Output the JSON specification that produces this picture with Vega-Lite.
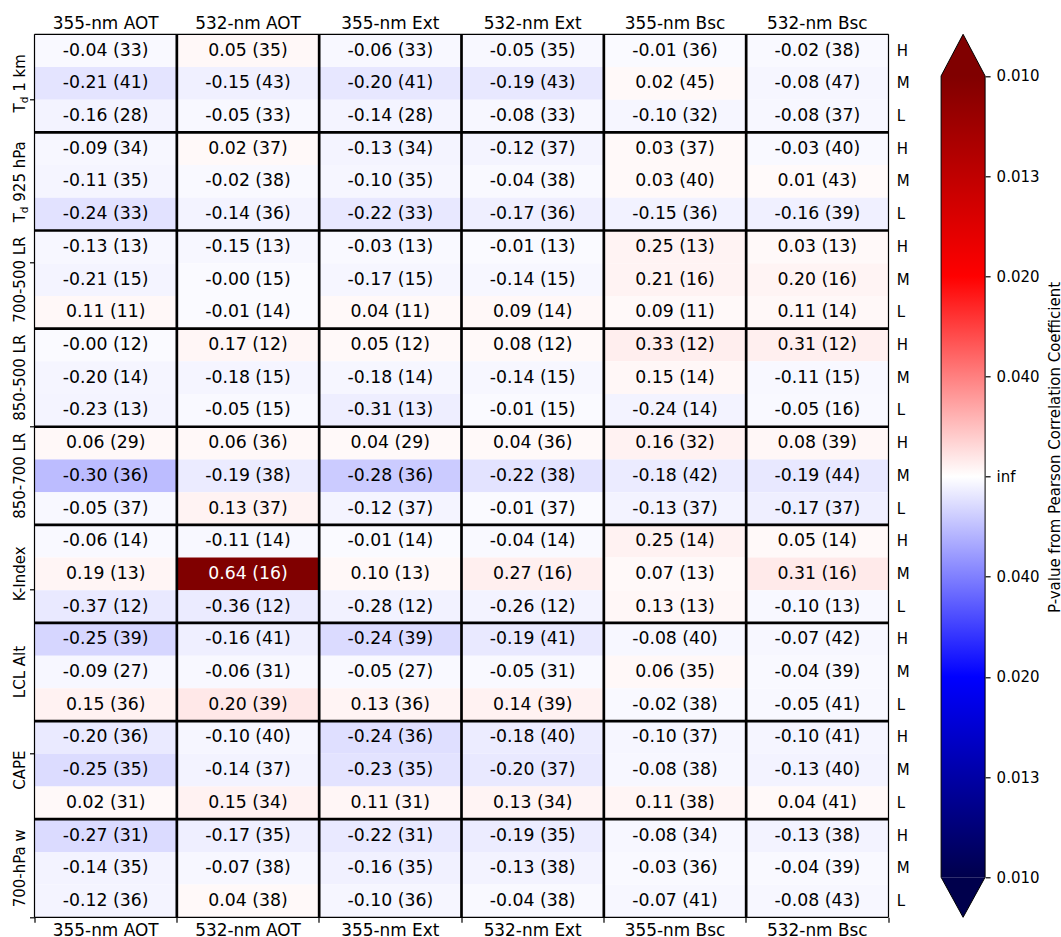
{
  "$schema": "https://vega.github.io/schema/vega-lite/v6.json",
  "background": "white",
  "padding": {"left": 12.5, "top": 14.3, "right": 0, "bottom": 0},
  "spacing": 29.6,
  "config": {
    "font": "DejaVu Sans",
    "view": {"stroke": null},
    "axis": {"labelFont": "DejaVu Sans", "titleFont": "DejaVu Sans", "labelColor": "black", "titleColor": "black", "tickColor": "black", "grid": false},
    "text": {"font": "DejaVu Sans"}
  },
  "datasets": {
    "cells": [
      {"row":"Td1 H","lvl":"H","col":"355-nm AOT","r":-0.04,"n":33,"inv_p":-1.21,"label":"-0.04 (33)"},
      {"row":"Td1 H","lvl":"H","col":"532-nm AOT","r":0.05,"n":35,"inv_p":1.29,"label":"0.05 (35)"},
      {"row":"Td1 H","lvl":"H","col":"355-nm Ext","r":-0.06,"n":33,"inv_p":-1.35,"label":"-0.06 (33)"},
      {"row":"Td1 H","lvl":"H","col":"532-nm Ext","r":-0.05,"n":35,"inv_p":-1.29,"label":"-0.05 (35)"},
      {"row":"Td1 H","lvl":"H","col":"355-nm Bsc","r":-0.01,"n":36,"inv_p":-1.05,"label":"-0.01 (36)"},
      {"row":"Td1 H","lvl":"H","col":"532-nm Bsc","r":-0.02,"n":38,"inv_p":-1.10,"label":"-0.02 (38)"},
      {"row":"Td1 M","lvl":"M","col":"355-nm AOT","r":-0.21,"n":41,"inv_p":-5.3,"label":"-0.21 (41)"},
      {"row":"Td1 M","lvl":"M","col":"532-nm AOT","r":-0.15,"n":43,"inv_p":-2.97,"label":"-0.15 (43)"},
      {"row":"Td1 M","lvl":"M","col":"355-nm Ext","r":-0.20,"n":41,"inv_p":-4.76,"label":"-0.20 (41)"},
      {"row":"Td1 M","lvl":"M","col":"532-nm Ext","r":-0.19,"n":43,"inv_p":-4.5,"label":"-0.19 (43)"},
      {"row":"Td1 M","lvl":"M","col":"355-nm Bsc","r":0.02,"n":45,"inv_p":1.12,"label":"0.02 (45)"},
      {"row":"Td1 M","lvl":"M","col":"532-nm Bsc","r":-0.08,"n":47,"inv_p":-1.69,"label":"-0.08 (47)"},
      {"row":"Td1 L","lvl":"L","col":"355-nm AOT","r":-0.16,"n":28,"inv_p":-2.40,"label":"-0.16 (28)"},
      {"row":"Td1 L","lvl":"L","col":"532-nm AOT","r":-0.05,"n":33,"inv_p":-1.28,"label":"-0.05 (33)"},
      {"row":"Td1 L","lvl":"L","col":"355-nm Ext","r":-0.14,"n":28,"inv_p":-2.10,"label":"-0.14 (28)"},
      {"row":"Td1 L","lvl":"L","col":"532-nm Ext","r":-0.08,"n":33,"inv_p":-1.52,"label":"-0.08 (33)"},
      {"row":"Td1 L","lvl":"L","col":"355-nm Bsc","r":-0.10,"n":32,"inv_p":-1.71,"label":"-0.10 (32)"},
      {"row":"Td1 L","lvl":"L","col":"532-nm Bsc","r":-0.08,"n":37,"inv_p":-1.57,"label":"-0.08 (37)"},
      {"row":"Td925 H","lvl":"H","col":"355-nm AOT","r":-0.09,"n":34,"inv_p":-1.63,"label":"-0.09 (34)"},
      {"row":"Td925 H","lvl":"H","col":"532-nm AOT","r":0.02,"n":37,"inv_p":1.10,"label":"0.02 (37)"},
      {"row":"Td925 H","lvl":"H","col":"355-nm Ext","r":-0.13,"n":34,"inv_p":-2.16,"label":"-0.13 (34)"},
      {"row":"Td925 H","lvl":"H","col":"532-nm Ext","r":-0.12,"n":37,"inv_p":-2.08,"label":"-0.12 (37)"},
      {"row":"Td925 H","lvl":"H","col":"355-nm Bsc","r":0.03,"n":37,"inv_p":1.16,"label":"0.03 (37)"},
      {"row":"Td925 H","lvl":"H","col":"532-nm Bsc","r":-0.03,"n":40,"inv_p":-1.17,"label":"-0.03 (40)"},
      {"row":"Td925 M","lvl":"M","col":"355-nm AOT","r":-0.11,"n":35,"inv_p":-1.89,"label":"-0.11 (35)"},
      {"row":"Td925 M","lvl":"M","col":"532-nm AOT","r":-0.02,"n":38,"inv_p":-1.10,"label":"-0.02 (38)"},
      {"row":"Td925 M","lvl":"M","col":"355-nm Ext","r":-0.10,"n":35,"inv_p":-1.76,"label":"-0.10 (35)"},
      {"row":"Td925 M","lvl":"M","col":"532-nm Ext","r":-0.04,"n":38,"inv_p":-1.23,"label":"-0.04 (38)"},
      {"row":"Td925 M","lvl":"M","col":"355-nm Bsc","r":0.03,"n":40,"inv_p":1.17,"label":"0.03 (40)"},
      {"row":"Td925 M","lvl":"M","col":"532-nm Bsc","r":0.01,"n":43,"inv_p":1.05,"label":"0.01 (43)"},
      {"row":"Td925 L","lvl":"L","col":"355-nm AOT","r":-0.24,"n":33,"inv_p":-5.6,"label":"-0.24 (33)"},
      {"row":"Td925 L","lvl":"L","col":"532-nm AOT","r":-0.14,"n":36,"inv_p":-2.40,"label":"-0.14 (36)"},
      {"row":"Td925 L","lvl":"L","col":"355-nm Ext","r":-0.22,"n":33,"inv_p":-4.57,"label":"-0.22 (33)"},
      {"row":"Td925 L","lvl":"L","col":"532-nm Ext","r":-0.17,"n":36,"inv_p":-3.11,"label":"-0.17 (36)"},
      {"row":"Td925 L","lvl":"L","col":"355-nm Bsc","r":-0.15,"n":36,"inv_p":-2.62,"label":"-0.15 (36)"},
      {"row":"Td925 L","lvl":"L","col":"532-nm Bsc","r":-0.16,"n":39,"inv_p":-3.02,"label":"-0.16 (39)"},
      {"row":"LR75 H","lvl":"H","col":"355-nm AOT","r":-0.13,"n":13,"inv_p":-1.49,"label":"-0.13 (13)"},
      {"row":"LR75 H","lvl":"H","col":"532-nm AOT","r":-0.15,"n":13,"inv_p":-1.60,"label":"-0.15 (13)"},
      {"row":"LR75 H","lvl":"H","col":"355-nm Ext","r":-0.03,"n":13,"inv_p":-1.08,"label":"-0.03 (13)"},
      {"row":"LR75 H","lvl":"H","col":"532-nm Ext","r":-0.01,"n":13,"inv_p":-1.03,"label":"-0.01 (13)"},
      {"row":"LR75 H","lvl":"H","col":"355-nm Bsc","r":0.25,"n":13,"inv_p":2.43,"label":"0.25 (13)"},
      {"row":"LR75 H","lvl":"H","col":"532-nm Bsc","r":0.03,"n":13,"inv_p":1.08,"label":"0.03 (13)"},
      {"row":"LR75 M","lvl":"M","col":"355-nm AOT","r":-0.21,"n":15,"inv_p":-2.21,"label":"-0.21 (15)"},
      {"row":"LR75 M","lvl":"M","col":"532-nm AOT","r":-0.0,"n":15,"inv_p":-1.0,"label":"-0.00 (15)"},
      {"row":"LR75 M","lvl":"M","col":"355-nm Ext","r":-0.17,"n":15,"inv_p":-1.84,"label":"-0.17 (15)"},
      {"row":"LR75 M","lvl":"M","col":"532-nm Ext","r":-0.14,"n":15,"inv_p":-1.62,"label":"-0.14 (15)"},
      {"row":"LR75 M","lvl":"M","col":"355-nm Bsc","r":0.21,"n":16,"inv_p":2.30,"label":"0.21 (16)"},
      {"row":"LR75 M","lvl":"M","col":"532-nm Bsc","r":0.20,"n":16,"inv_p":2.18,"label":"0.20 (16)"},
      {"row":"LR75 L","lvl":"L","col":"355-nm AOT","r":0.11,"n":11,"inv_p":1.34,"label":"0.11 (11)"},
      {"row":"LR75 L","lvl":"L","col":"532-nm AOT","r":-0.01,"n":14,"inv_p":-1.03,"label":"-0.01 (14)"},
      {"row":"LR75 L","lvl":"L","col":"355-nm Ext","r":0.04,"n":11,"inv_p":1.10,"label":"0.04 (11)"},
      {"row":"LR75 L","lvl":"L","col":"532-nm Ext","r":0.09,"n":14,"inv_p":1.32,"label":"0.09 (14)"},
      {"row":"LR75 L","lvl":"L","col":"355-nm Bsc","r":0.09,"n":11,"inv_p":1.26,"label":"0.09 (11)"},
      {"row":"LR75 L","lvl":"L","col":"532-nm Bsc","r":0.11,"n":14,"inv_p":1.41,"label":"0.11 (14)"},
      {"row":"LR85 H","lvl":"H","col":"355-nm AOT","r":-0.0,"n":12,"inv_p":-1.0,"label":"-0.00 (12)"},
      {"row":"LR85 H","lvl":"H","col":"532-nm AOT","r":0.17,"n":12,"inv_p":1.67,"label":"0.17 (12)"},
      {"row":"LR85 H","lvl":"H","col":"355-nm Ext","r":0.05,"n":12,"inv_p":1.14,"label":"0.05 (12)"},
      {"row":"LR85 H","lvl":"H","col":"532-nm Ext","r":0.08,"n":12,"inv_p":1.24,"label":"0.08 (12)"},
      {"row":"LR85 H","lvl":"H","col":"355-nm Bsc","r":0.33,"n":12,"inv_p":3.38,"label":"0.33 (12)"},
      {"row":"LR85 H","lvl":"H","col":"532-nm Bsc","r":0.31,"n":12,"inv_p":3.06,"label":"0.31 (12)"},
      {"row":"LR85 M","lvl":"M","col":"355-nm AOT","r":-0.20,"n":14,"inv_p":-2.03,"label":"-0.20 (14)"},
      {"row":"LR85 M","lvl":"M","col":"532-nm AOT","r":-0.18,"n":15,"inv_p":-1.92,"label":"-0.18 (15)"},
      {"row":"LR85 M","lvl":"M","col":"355-nm Ext","r":-0.18,"n":14,"inv_p":-1.86,"label":"-0.18 (14)"},
      {"row":"LR85 M","lvl":"M","col":"532-nm Ext","r":-0.14,"n":15,"inv_p":-1.62,"label":"-0.14 (15)"},
      {"row":"LR85 M","lvl":"M","col":"355-nm Bsc","r":0.15,"n":14,"inv_p":1.64,"label":"0.15 (14)"},
      {"row":"LR85 M","lvl":"M","col":"532-nm Bsc","r":-0.11,"n":15,"inv_p":-1.43,"label":"-0.11 (15)"},
      {"row":"LR85 L","lvl":"L","col":"355-nm AOT","r":-0.23,"n":13,"inv_p":-2.22,"label":"-0.23 (13)"},
      {"row":"LR85 L","lvl":"L","col":"532-nm AOT","r":-0.05,"n":15,"inv_p":-1.16,"label":"-0.05 (15)"},
      {"row":"LR85 L","lvl":"L","col":"355-nm Ext","r":-0.31,"n":13,"inv_p":-3.30,"label":"-0.31 (13)"},
      {"row":"LR85 L","lvl":"L","col":"532-nm Ext","r":-0.01,"n":15,"inv_p":-1.03,"label":"-0.01 (15)"},
      {"row":"LR85 L","lvl":"L","col":"355-nm Bsc","r":-0.24,"n":14,"inv_p":-2.45,"label":"-0.24 (14)"},
      {"row":"LR85 L","lvl":"L","col":"532-nm Bsc","r":-0.05,"n":16,"inv_p":-1.17,"label":"-0.05 (16)"},
      {"row":"LR87 H","lvl":"H","col":"355-nm AOT","r":0.06,"n":29,"inv_p":1.32,"label":"0.06 (29)"},
      {"row":"LR87 H","lvl":"H","col":"532-nm AOT","r":0.06,"n":36,"inv_p":1.38,"label":"0.06 (36)"},
      {"row":"LR87 H","lvl":"H","col":"355-nm Ext","r":0.04,"n":29,"inv_p":1.20,"label":"0.04 (29)"},
      {"row":"LR87 H","lvl":"H","col":"532-nm Ext","r":0.04,"n":36,"inv_p":1.22,"label":"0.04 (36)"},
      {"row":"LR87 H","lvl":"H","col":"355-nm Bsc","r":0.16,"n":32,"inv_p":2.62,"label":"0.16 (32)"},
      {"row":"LR87 H","lvl":"H","col":"532-nm Bsc","r":0.08,"n":39,"inv_p":1.59,"label":"0.08 (39)"},
      {"row":"LR87 M","lvl":"M","col":"355-nm AOT","r":-0.30,"n":36,"inv_p":-13.2,"label":"-0.30 (36)"},
      {"row":"LR87 M","lvl":"M","col":"532-nm AOT","r":-0.19,"n":38,"inv_p":-3.95,"label":"-0.19 (38)"},
      {"row":"LR87 M","lvl":"M","col":"355-nm Ext","r":-0.28,"n":36,"inv_p":-10.2,"label":"-0.28 (36)"},
      {"row":"LR87 M","lvl":"M","col":"532-nm Ext","r":-0.22,"n":38,"inv_p":-5.42,"label":"-0.22 (38)"},
      {"row":"LR87 M","lvl":"M","col":"355-nm Bsc","r":-0.18,"n":42,"inv_p":-3.94,"label":"-0.18 (42)"},
      {"row":"LR87 M","lvl":"M","col":"532-nm Bsc","r":-0.19,"n":44,"inv_p":-4.6,"label":"-0.19 (44)"},
      {"row":"LR87 L","lvl":"L","col":"355-nm AOT","r":-0.05,"n":37,"inv_p":-1.30,"label":"-0.05 (37)"},
      {"row":"LR87 L","lvl":"L","col":"532-nm AOT","r":0.13,"n":37,"inv_p":2.26,"label":"0.13 (37)"},
      {"row":"LR87 L","lvl":"L","col":"355-nm Ext","r":-0.12,"n":37,"inv_p":-2.08,"label":"-0.12 (37)"},
      {"row":"LR87 L","lvl":"L","col":"532-nm Ext","r":-0.01,"n":37,"inv_p":-1.05,"label":"-0.01 (37)"},
      {"row":"LR87 L","lvl":"L","col":"355-nm Bsc","r":-0.13,"n":37,"inv_p":-2.26,"label":"-0.13 (37)"},
      {"row":"LR87 L","lvl":"L","col":"532-nm Bsc","r":-0.17,"n":37,"inv_p":-3.18,"label":"-0.17 (37)"},
      {"row":"KI H","lvl":"H","col":"355-nm AOT","r":-0.06,"n":14,"inv_p":-1.19,"label":"-0.06 (14)"},
      {"row":"KI H","lvl":"H","col":"532-nm AOT","r":-0.11,"n":14,"inv_p":-1.41,"label":"-0.11 (14)"},
      {"row":"KI H","lvl":"H","col":"355-nm Ext","r":-0.01,"n":14,"inv_p":-1.03,"label":"-0.01 (14)"},
      {"row":"KI H","lvl":"H","col":"532-nm Ext","r":-0.04,"n":14,"inv_p":-1.12,"label":"-0.04 (14)"},
      {"row":"KI H","lvl":"H","col":"355-nm Bsc","r":0.25,"n":14,"inv_p":2.57,"label":"0.25 (14)"},
      {"row":"KI H","lvl":"H","col":"532-nm Bsc","r":0.05,"n":14,"inv_p":1.16,"label":"0.05 (14)"},
      {"row":"KI M","lvl":"M","col":"355-nm AOT","r":0.19,"n":13,"inv_p":1.87,"label":"0.19 (13)"},
      {"row":"KI M","lvl":"M","col":"532-nm AOT","r":0.64,"n":16,"inv_p":133,"label":"0.64 (16)"},
      {"row":"KI M","lvl":"M","col":"355-nm Ext","r":0.10,"n":13,"inv_p":1.34,"label":"0.10 (13)"},
      {"row":"KI M","lvl":"M","col":"532-nm Ext","r":0.27,"n":16,"inv_p":3.21,"label":"0.27 (16)"},
      {"row":"KI M","lvl":"M","col":"355-nm Bsc","r":0.07,"n":13,"inv_p":1.22,"label":"0.07 (13)"},
      {"row":"KI M","lvl":"M","col":"532-nm Bsc","r":0.31,"n":16,"inv_p":4.12,"label":"0.31 (16)"},
      {"row":"KI L","lvl":"L","col":"355-nm AOT","r":-0.37,"n":12,"inv_p":-4.22,"label":"-0.37 (12)"},
      {"row":"KI L","lvl":"L","col":"532-nm AOT","r":-0.36,"n":12,"inv_p":-3.98,"label":"-0.36 (12)"},
      {"row":"KI L","lvl":"L","col":"355-nm Ext","r":-0.28,"n":12,"inv_p":-2.64,"label":"-0.28 (12)"},
      {"row":"KI L","lvl":"L","col":"532-nm Ext","r":-0.26,"n":12,"inv_p":-2.41,"label":"-0.26 (12)"},
      {"row":"KI L","lvl":"L","col":"355-nm Bsc","r":0.13,"n":13,"inv_p":1.49,"label":"0.13 (13)"},
      {"row":"KI L","lvl":"L","col":"532-nm Bsc","r":-0.10,"n":13,"inv_p":-1.34,"label":"-0.10 (13)"},
      {"row":"LCL H","lvl":"H","col":"355-nm AOT","r":-0.25,"n":39,"inv_p":-8.0,"label":"-0.25 (39)"},
      {"row":"LCL H","lvl":"H","col":"532-nm AOT","r":-0.16,"n":41,"inv_p":-3.15,"label":"-0.16 (41)"},
      {"row":"LCL H","lvl":"H","col":"355-nm Ext","r":-0.24,"n":39,"inv_p":-7.09,"label":"-0.24 (39)"},
      {"row":"LCL H","lvl":"H","col":"532-nm Ext","r":-0.19,"n":41,"inv_p":-4.27,"label":"-0.19 (41)"},
      {"row":"LCL H","lvl":"H","col":"355-nm Bsc","r":-0.08,"n":40,"inv_p":-1.60,"label":"-0.08 (40)"},
      {"row":"LCL H","lvl":"H","col":"532-nm Bsc","r":-0.07,"n":42,"inv_p":-1.52,"label":"-0.07 (42)"},
      {"row":"LCL M","lvl":"M","col":"355-nm AOT","r":-0.09,"n":27,"inv_p":-1.53,"label":"-0.09 (27)"},
      {"row":"LCL M","lvl":"M","col":"532-nm AOT","r":-0.06,"n":31,"inv_p":-1.34,"label":"-0.06 (31)"},
      {"row":"LCL M","lvl":"M","col":"355-nm Ext","r":-0.05,"n":27,"inv_p":-1.24,"label":"-0.05 (27)"},
      {"row":"LCL M","lvl":"M","col":"532-nm Ext","r":-0.05,"n":31,"inv_p":-1.27,"label":"-0.05 (31)"},
      {"row":"LCL M","lvl":"M","col":"355-nm Bsc","r":0.06,"n":35,"inv_p":1.37,"label":"0.06 (35)"},
      {"row":"LCL M","lvl":"M","col":"532-nm Bsc","r":-0.04,"n":39,"inv_p":-1.24,"label":"-0.04 (39)"},
      {"row":"LCL L","lvl":"L","col":"355-nm AOT","r":0.15,"n":36,"inv_p":2.61,"label":"0.15 (36)"},
      {"row":"LCL L","lvl":"L","col":"532-nm AOT","r":0.20,"n":39,"inv_p":4.5,"label":"0.20 (39)"},
      {"row":"LCL L","lvl":"L","col":"355-nm Ext","r":0.13,"n":36,"inv_p":2.22,"label":"0.13 (36)"},
      {"row":"LCL L","lvl":"L","col":"532-nm Ext","r":0.14,"n":39,"inv_p":2.53,"label":"0.14 (39)"},
      {"row":"LCL L","lvl":"L","col":"355-nm Bsc","r":-0.02,"n":38,"inv_p":-1.10,"label":"-0.02 (38)"},
      {"row":"LCL L","lvl":"L","col":"532-nm Bsc","r":-0.05,"n":41,"inv_p":-1.32,"label":"-0.05 (41)"},
      {"row":"CAPE H","lvl":"H","col":"355-nm AOT","r":-0.20,"n":36,"inv_p":-4.13,"label":"-0.20 (36)"},
      {"row":"CAPE H","lvl":"H","col":"532-nm AOT","r":-0.10,"n":40,"inv_p":-1.85,"label":"-0.10 (40)"},
      {"row":"CAPE H","lvl":"H","col":"355-nm Ext","r":-0.24,"n":36,"inv_p":-6.3,"label":"-0.24 (36)"},
      {"row":"CAPE H","lvl":"H","col":"532-nm Ext","r":-0.18,"n":40,"inv_p":-3.76,"label":"-0.18 (40)"},
      {"row":"CAPE H","lvl":"H","col":"355-nm Bsc","r":-0.10,"n":37,"inv_p":-1.80,"label":"-0.10 (37)"},
      {"row":"CAPE H","lvl":"H","col":"532-nm Bsc","r":-0.10,"n":41,"inv_p":-1.87,"label":"-0.10 (41)"},
      {"row":"CAPE M","lvl":"M","col":"355-nm AOT","r":-0.25,"n":35,"inv_p":-6.77,"label":"-0.25 (35)"},
      {"row":"CAPE M","lvl":"M","col":"532-nm AOT","r":-0.14,"n":37,"inv_p":-2.45,"label":"-0.14 (37)"},
      {"row":"CAPE M","lvl":"M","col":"355-nm Ext","r":-0.23,"n":35,"inv_p":-5.44,"label":"-0.23 (35)"},
      {"row":"CAPE M","lvl":"M","col":"532-nm Ext","r":-0.20,"n":37,"inv_p":-4.25,"label":"-0.20 (37)"},
      {"row":"CAPE M","lvl":"M","col":"355-nm Bsc","r":-0.08,"n":38,"inv_p":-1.58,"label":"-0.08 (38)"},
      {"row":"CAPE M","lvl":"M","col":"532-nm Bsc","r":-0.13,"n":40,"inv_p":-2.36,"label":"-0.13 (40)"},
      {"row":"CAPE L","lvl":"L","col":"355-nm AOT","r":0.02,"n":31,"inv_p":1.09,"label":"0.02 (31)"},
      {"row":"CAPE L","lvl":"L","col":"532-nm AOT","r":0.15,"n":34,"inv_p":2.52,"label":"0.15 (34)"},
      {"row":"CAPE L","lvl":"L","col":"355-nm Ext","r":0.11,"n":31,"inv_p":1.80,"label":"0.11 (31)"},
      {"row":"CAPE L","lvl":"L","col":"532-nm Ext","r":0.13,"n":34,"inv_p":2.16,"label":"0.13 (34)"},
      {"row":"CAPE L","lvl":"L","col":"355-nm Bsc","r":0.11,"n":38,"inv_p":1.96,"label":"0.11 (38)"},
      {"row":"CAPE L","lvl":"L","col":"532-nm Bsc","r":0.04,"n":41,"inv_p":1.25,"label":"0.04 (41)"},
      {"row":"W700 H","lvl":"H","col":"355-nm AOT","r":-0.27,"n":31,"inv_p":-7.04,"label":"-0.27 (31)"},
      {"row":"W700 H","lvl":"H","col":"532-nm AOT","r":-0.17,"n":35,"inv_p":-3.04,"label":"-0.17 (35)"},
      {"row":"W700 H","lvl":"H","col":"355-nm Ext","r":-0.22,"n":31,"inv_p":-4.27,"label":"-0.22 (31)"},
      {"row":"W700 H","lvl":"H","col":"532-nm Ext","r":-0.19,"n":35,"inv_p":-3.65,"label":"-0.19 (35)"},
      {"row":"W700 H","lvl":"H","col":"355-nm Bsc","r":-0.08,"n":34,"inv_p":-1.53,"label":"-0.08 (34)"},
      {"row":"W700 H","lvl":"H","col":"532-nm Bsc","r":-0.13,"n":38,"inv_p":-2.29,"label":"-0.13 (38)"},
      {"row":"W700 M","lvl":"M","col":"355-nm AOT","r":-0.14,"n":35,"inv_p":-2.37,"label":"-0.14 (35)"},
      {"row":"W700 M","lvl":"M","col":"532-nm AOT","r":-0.07,"n":38,"inv_p":-1.48,"label":"-0.07 (38)"},
      {"row":"W700 M","lvl":"M","col":"355-nm Ext","r":-0.16,"n":35,"inv_p":-2.79,"label":"-0.16 (35)"},
      {"row":"W700 M","lvl":"M","col":"532-nm Ext","r":-0.13,"n":38,"inv_p":-2.29,"label":"-0.13 (38)"},
      {"row":"W700 M","lvl":"M","col":"355-nm Bsc","r":-0.03,"n":36,"inv_p":-1.16,"label":"-0.03 (36)"},
      {"row":"W700 M","lvl":"M","col":"532-nm Bsc","r":-0.04,"n":39,"inv_p":-1.24,"label":"-0.04 (39)"},
      {"row":"W700 L","lvl":"L","col":"355-nm AOT","r":-0.12,"n":36,"inv_p":-2.06,"label":"-0.12 (36)"},
      {"row":"W700 L","lvl":"L","col":"532-nm AOT","r":0.04,"n":38,"inv_p":1.23,"label":"0.04 (38)"},
      {"row":"W700 L","lvl":"L","col":"355-nm Ext","r":-0.10,"n":36,"inv_p":-1.78,"label":"-0.10 (36)"},
      {"row":"W700 L","lvl":"L","col":"532-nm Ext","r":-0.04,"n":38,"inv_p":-1.23,"label":"-0.04 (38)"},
      {"row":"W700 L","lvl":"L","col":"355-nm Bsc","r":-0.07,"n":41,"inv_p":-1.51,"label":"-0.07 (41)"},
      {"row":"W700 L","lvl":"L","col":"532-nm Bsc","r":-0.08,"n":43,"inv_p":-1.64,"label":"-0.08 (43)"}
    ]
  },
  "hconcat": [
    {
      "width": 854,
      "height": 883,
      "data": {"name": "cells"},
      "resolve": {"axis": {"x": "independent", "y": "independent"}},
      "layer": [
        {
          "mark": {"type": "rect"},
          "encoding": {
            "x": {
              "field": "col", "type": "nominal",
              "scale": {"domain": ["355-nm AOT", "532-nm AOT", "355-nm Ext", "532-nm Ext", "355-nm Bsc", "532-nm Bsc"], "paddingInner": 0, "paddingOuter": 0},
              "axis": {"orient": "top", "title": null, "labelAngle": 0, "ticks": false, "tickSize": 0, "domain": false, "labelPadding": 2, "labelFontSize": 16.9}
            },
            "y": {
              "field": "row", "type": "nominal",
              "scale": {"domain": ["Td1 H","Td1 M","Td1 L","Td925 H","Td925 M","Td925 L","LR75 H","LR75 M","LR75 L","LR85 H","LR85 M","LR85 L","LR87 H","LR87 M","LR87 L","KI H","KI M","KI L","LCL H","LCL M","LCL L","CAPE H","CAPE M","CAPE L","W700 H","W700 M","W700 L"], "paddingInner": 0, "paddingOuter": 0},
              "axis": {"orient": "right", "title": null, "ticks": false, "tickSize": 0, "domain": false, "labelPadding": 7.7, "labelFontSize": 15, "labelExpr": "substring(datum.value, length(datum.value) - 1)"}
            },
            "fill": {
              "field": "inv_p", "type": "quantitative",
              "scale": {"domain": [-100, -50, 0, 50, 100], "range": ["#00004c", "#0000ff", "#ffffff", "#ff0000", "#800000"], "clamp": true, "interpolate": "rgb"},
              "legend": null
            }
          }
        },
        {
          "mark": {"type": "text", "fontSize": 17.3, "baseline": "middle", "align": "center"},
          "encoding": {
            "x": {"field": "col", "type": "nominal", "axis": null},
            "y": {"field": "row", "type": "nominal", "axis": null},
            "text": {"field": "label"},
            "color": {"condition": {"test": "abs(datum.inv_p) > 60", "value": "white"}, "value": "black"}
          }
        },
        {
          "transform": [{"filter": "datum.row === 'Td1 H' && datum.col !== '355-nm AOT'"}],
          "mark": {"type": "rule", "color": "black", "strokeWidth": 2.7},
          "encoding": {
            "x": {
              "field": "col", "type": "nominal", "bandPosition": 0,
              "axis": {"orient": "bottom", "title": null, "labelAngle": 0, "bandPosition": 0, "tickSize": 5, "tickWidth": 1.2, "domain": false, "labelPadding": 0.3, "labelFontSize": 16.9}
            }
          }
        },
        {
          "transform": [{"filter": "datum.lvl === 'H' && datum.col === '355-nm AOT' && datum.row !== 'Td1 H'"}],
          "mark": {"type": "rule", "color": "black", "strokeWidth": 2.7},
          "encoding": {
            "y": {
              "field": "row", "type": "nominal", "bandPosition": 0,
              "axis": {"orient": "left", "title": null, "labels": false, "values": ["Td1 M", "LR75 H", "LR85 L", "KI M", "CAPE H", "W700 L"], "bandPosition": 1, "tickSize": 5, "tickWidth": 1.2, "domain": false}
            }
          }
        },
        {
          "transform": [{"filter": "datum.row === 'Td1 H' && datum.col === '355-nm AOT'"}],
          "mark": {"type": "rule", "color": "black", "strokeWidth": 1.2},
          "encoding": {"x": {"field": "col", "type": "nominal", "bandPosition": 0, "axis": null}}
        },
        {
          "transform": [{"filter": "datum.row === 'Td1 H' && datum.col === '532-nm Bsc'"}],
          "mark": {"type": "rule", "color": "black", "strokeWidth": 1.2},
          "encoding": {
            "x": {
              "field": "col", "type": "nominal", "bandPosition": 1,
              "axis": {"orient": "bottom", "title": null, "labels": false, "values": ["532-nm Bsc"], "bandPosition": 1, "tickSize": 5, "tickWidth": 1.2, "domain": false}
            }
          }
        },
        {
          "transform": [{"filter": "datum.row === 'Td1 H' && datum.col === '355-nm AOT'"}],
          "mark": {"type": "rule", "color": "black", "strokeWidth": 1.2},
          "encoding": {"y": {"field": "row", "type": "nominal", "bandPosition": 0, "axis": null}}
        },
        {
          "transform": [{"filter": "datum.row === 'W700 L' && datum.col === '355-nm AOT'"}],
          "mark": {"type": "rule", "color": "black", "strokeWidth": 1.2},
          "encoding": {"y": {"field": "row", "type": "nominal", "bandPosition": 1, "axis": null}}
        },
        {
          "data": {"values": [
            {"row": "LR75 M", "name": "700-500 LR"},
            {"row": "LR85 M", "name": "850-500 LR"},
            {"row": "LR87 M", "name": "850-700 LR"},
            {"row": "KI M", "name": "K-Index"},
            {"row": "LCL M", "name": "LCL Alt"},
            {"row": "CAPE M", "name": "CAPE"},
            {"row": "W700 M", "name": "700-hPa w"}
          ]},
          "mark": {"type": "text", "angle": 270, "align": "center", "baseline": "alphabetic", "dy": -9.8, "fontSize": 15, "color": "black"},
          "encoding": {
            "x": {"datum": "355-nm AOT", "type": "nominal", "bandPosition": 0, "axis": null},
            "y": {"field": "row", "type": "nominal", "axis": null},
            "text": {"field": "name"}
          }
        },
        {
          "data": {"values": [{"row": "Td1 M", "part": "T"}]},
          "mark": {"type": "text", "angle": 270, "align": "left", "baseline": "alphabetic", "dx": -29.15, "dy": -9.8, "fontSize": 15, "color": "black"},
          "encoding": {"x": {"datum": "355-nm AOT", "type": "nominal", "bandPosition": 0, "axis": null}, "y": {"field": "row", "type": "nominal", "axis": null}, "text": {"field": "part"}}
        },
        {
          "data": {"values": [{"row": "Td1 M", "part": "d"}]},
          "mark": {"type": "text", "angle": 270, "align": "left", "baseline": "alphabetic", "dx": -19.95, "dy": -7, "fontSize": 10.5, "color": "black"},
          "encoding": {"x": {"datum": "355-nm AOT", "type": "nominal", "bandPosition": 0, "axis": null}, "y": {"field": "row", "type": "nominal", "axis": null}, "text": {"field": "part"}}
        },
        {
          "data": {"values": [{"row": "Td1 M", "part": "1 km"}]},
          "mark": {"type": "text", "angle": 270, "align": "left", "baseline": "alphabetic", "dx": -8.45, "dy": -9.8, "fontSize": 15, "color": "black"},
          "encoding": {"x": {"datum": "355-nm AOT", "type": "nominal", "bandPosition": 0, "axis": null}, "y": {"field": "row", "type": "nominal", "axis": null}, "text": {"field": "part"}}
        },
        {
          "data": {"values": [{"row": "Td925 M", "part": "T"}]},
          "mark": {"type": "text", "angle": 270, "align": "left", "baseline": "alphabetic", "dx": -40.9, "dy": -9.8, "fontSize": 15, "color": "black"},
          "encoding": {"x": {"datum": "355-nm AOT", "type": "nominal", "bandPosition": 0, "axis": null}, "y": {"field": "row", "type": "nominal", "axis": null}, "text": {"field": "part"}}
        },
        {
          "data": {"values": [{"row": "Td925 M", "part": "d"}]},
          "mark": {"type": "text", "angle": 270, "align": "left", "baseline": "alphabetic", "dx": -31.7, "dy": -7, "fontSize": 10.5, "color": "black"},
          "encoding": {"x": {"datum": "355-nm AOT", "type": "nominal", "bandPosition": 0, "axis": null}, "y": {"field": "row", "type": "nominal", "axis": null}, "text": {"field": "part"}}
        },
        {
          "data": {"values": [{"row": "Td925 M", "part": "925 hPa"}]},
          "mark": {"type": "text", "angle": 270, "align": "left", "baseline": "alphabetic", "dx": -20.2, "dy": -9.8, "fontSize": 15, "color": "black"},
          "encoding": {"x": {"datum": "355-nm AOT", "type": "nominal", "bandPosition": 0, "axis": null}, "y": {"field": "row", "type": "nominal", "axis": null}, "text": {"field": "part"}}
        }
      ]
    },
    {
      "width": 44,
      "height": 883,
      "resolve": {"axis": {"y": "independent"}},
      "layer": [
        {
          "data": {"values": [{"lo": -100, "hi": 100, "left": 0, "right": 1}]},
          "mark": {
            "type": "rect",
            "fill": {"gradient": "linear", "x1": 0, "y1": 1, "x2": 0, "y2": 0, "stops": [
              {"offset": 0, "color": "#00004c"},
              {"offset": 0.25, "color": "#0000ff"},
              {"offset": 0.5, "color": "#ffffff"},
              {"offset": 0.75, "color": "#ff0000"},
              {"offset": 1, "color": "#800000"}
            ]}
          },
          "encoding": {
            "x": {"field": "left", "type": "quantitative", "scale": {"domain": [0, 1], "nice": false, "zero": false}, "axis": null},
            "x2": {"field": "right"},
            "y": {
              "field": "lo", "type": "quantitative",
              "scale": {"domain": [-110, 110.4], "nice": false, "zero": false},
              "axis": {
                "orient": "right", "values": [-100, -75, -50, -25, 0, 25, 50, 75, 100],
                "labelExpr": "datum.value === 0 ? 'inf' : format(1 / abs(datum.value), '.3f')",
                "tickSize": 5, "tickWidth": 1.2, "labelPadding": 6, "labelFontSize": 15, "domain": false, "grid": false,
                "title": "P-value from Pearson Correlation Coefficient",
                "titleAngle": 270, "titleBaseline": "top", "titleFontSize": 15, "titleFontWeight": "normal", "titlePadding": 8, "titleY": 412.7
              }
            },
            "y2": {"field": "hi"}
          }
        },
        {
          "data": {"values": [
            {"x": 0, "y": 100, "base": 100},
            {"x": 0.5, "y": 110.4, "base": 100},
            {"x": 1, "y": 100, "base": 100}
          ]},
          "mark": {"type": "area", "color": "#800000"},
          "encoding": {
            "x": {"field": "x", "type": "quantitative", "scale": {"domain": [0, 1], "nice": false, "zero": false}, "axis": null},
            "y": {"field": "y", "type": "quantitative", "scale": {"domain": [-110, 110.4], "nice": false, "zero": false}, "axis": null},
            "y2": {"field": "base"}
          }
        },
        {
          "data": {"values": [
            {"x": 0, "y": -100, "base": -100},
            {"x": 0.5, "y": -110, "base": -100},
            {"x": 1, "y": -100, "base": -100}
          ]},
          "mark": {"type": "area", "color": "#00004c"},
          "encoding": {
            "x": {"field": "x", "type": "quantitative", "scale": {"domain": [0, 1], "nice": false, "zero": false}, "axis": null},
            "y": {"field": "y", "type": "quantitative", "scale": {"domain": [-110, 110.4], "nice": false, "zero": false}, "axis": null},
            "y2": {"field": "base"}
          }
        },
        {
          "data": {"values": [
            {"k": 0, "x": 0, "y": 100},
            {"k": 1, "x": 0.5, "y": 110.4},
            {"k": 2, "x": 1, "y": 100},
            {"k": 3, "x": 1, "y": -100},
            {"k": 4, "x": 0.5, "y": -110},
            {"k": 5, "x": 0, "y": -100},
            {"k": 6, "x": 0, "y": 100}
          ]},
          "mark": {"type": "line", "color": "black", "strokeWidth": 1},
          "encoding": {
            "x": {"field": "x", "type": "quantitative", "scale": {"domain": [0, 1], "nice": false, "zero": false}, "axis": null},
            "y": {"field": "y", "type": "quantitative", "scale": {"domain": [-110, 110.4], "nice": false, "zero": false}, "axis": null},
            "order": {"field": "k"}
          }
        }
      ]
    }
  ]
}
